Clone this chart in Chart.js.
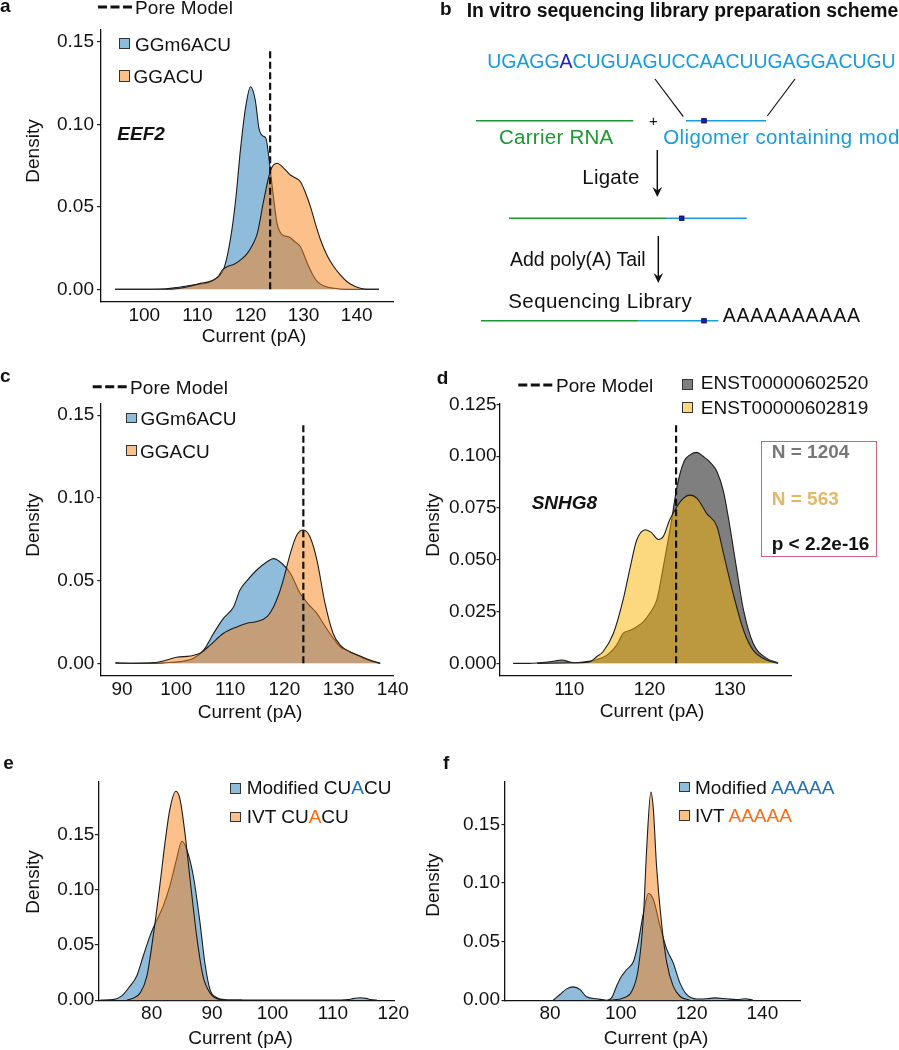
<!DOCTYPE html>
<html><head><meta charset="utf-8">
<script src="https://cdn.jsdelivr.net/npm/chart.js@4.4.1/dist/chart.umd.min.js"></script>
<style>
html,body{margin:0;padding:0;background:#fff;}
#page{position:relative;width:899px;height:1050px;overflow:hidden;background:#fff;font-family:'Liberation Sans',Arial,Helvetica,sans-serif;}
canvas{position:absolute;left:0;top:0;}
svg{position:absolute;left:0;top:0;}
.t{position:absolute;white-space:nowrap;}
.box{position:absolute;box-sizing:border-box;border:1px solid #333;}
</style></head><body><div id="page">
<canvas id="cA" width="899" height="1050"></canvas>
<canvas id="cC" width="899" height="1050"></canvas>
<canvas id="cD" width="899" height="1050"></canvas>
<canvas id="cE" width="899" height="1050"></canvas>
<canvas id="cF" width="899" height="1050"></canvas>
<svg width="899" height="1050">
 <line x1="98" y1="7" x2="132" y2="7" stroke="#111" stroke-width="3" stroke-dasharray="9 3.5"/>
 <line x1="92.7" y1="386.7" x2="126.7" y2="386.7" stroke="#111" stroke-width="3" stroke-dasharray="9 3.5"/>
 <line x1="518.3" y1="385" x2="552.7" y2="385" stroke="#111" stroke-width="3" stroke-dasharray="9 3.5"/>
 <line x1="655" y1="79" x2="683.3" y2="116.7" stroke="#111" stroke-width="1.2"/>
 <line x1="795" y1="79" x2="767.3" y2="116" stroke="#111" stroke-width="1.2"/>
 <line x1="476" y1="120.7" x2="633.3" y2="120.7" stroke="#1e9632" stroke-width="1.5"/>
 <line x1="686" y1="120.7" x2="766" y2="120.7" stroke="#1a9bdc" stroke-width="1.5"/>
 <rect x="701.7" y="118.4" width="4.6" height="4.6" fill="#1a1ad0" stroke="#111" stroke-width="0.8"/>
 <line x1="657.3" y1="150" x2="657.3" y2="192" stroke="#111" stroke-width="1.5"/>
 <polygon points="652.5,187 657.3,197 662.1,187 657.3,190.5" fill="#111"/>
 <line x1="509" y1="218.3" x2="666" y2="218.3" stroke="#1e9632" stroke-width="1.5"/>
 <line x1="666" y1="218.3" x2="746.7" y2="218.3" stroke="#1a9bdc" stroke-width="1.5"/>
 <rect x="679.4" y="216" width="4.6" height="4.6" fill="#1a1ad0" stroke="#111" stroke-width="0.8"/>
 <line x1="658.3" y1="236" x2="658.3" y2="278" stroke="#111" stroke-width="1.5"/>
 <polygon points="653.5,273 658.3,283 663.1,273 658.3,276.5" fill="#111"/>
 <line x1="481" y1="320.7" x2="638.3" y2="320.7" stroke="#1e9632" stroke-width="1.5"/>
 <line x1="638.3" y1="320.7" x2="718.3" y2="320.7" stroke="#1a9bdc" stroke-width="1.5"/>
 <rect x="701.7" y="318.4" width="4.6" height="4.6" fill="#1a1ad0" stroke="#111" stroke-width="0.8"/>
</svg>
</div>
<script>
// ---------------- DATA ----------------
// Panel a (EEF2)
const aX_m6A = [94.5,100,104,106,108,110,112,113.5,115,116.2,117.2,118.1,119.1,120.0,120.9,121.6,122.3,122.9,123.8,124.4,125.0,126.0,127.2,128.3,129.4,130.7,131.7,132.6,134,135.7,138,144.2];
const aY_m6A = [0,0,0.0003,0.001,0.002,0.003,0.004,0.0065,0.0127,0.030,0.054,0.0844,0.1107,0.1228,0.1147,0.0975,0.093,0.0915,0.0703,0.054,0.040,0.033,0.0318,0.029,0.0258,0.0158,0.009,0.0046,0.0018,0.0006,0,0];
const aX_A = [94.5,104,106,107,108.8,110.6,112,113.1,114,114.7,115.8,116.9,118.2,119.4,120.4,121.3,122.5,123.8,125.0,126.3,127.5,128.5,129.4,130.3,131.3,132.2,133.2,134.5,135.7,137,138.2,139.5,140.7,142,144.2];
const aY_A = [0,0,0.0003,0.0008,0.002,0.0036,0.0045,0.0058,0.008,0.0117,0.014,0.0152,0.018,0.0218,0.027,0.034,0.054,0.0723,0.0764,0.0733,0.0693,0.0675,0.0652,0.059,0.050,0.040,0.0299,0.020,0.0137,0.0085,0.0046,0.002,0.0006,0,0];
const aPore = 123.7, aPoreTop = 0.146;
const aXTicks = [100,110,120,130,140];
const aYTicks = [0,0.05,0.10,0.15];

// Panel c
const cX_m6A = [88.8,90,92,94,96,98,100.8,103.2,105.1,106.9,108.7,110.6,111.8,113.1,114.9,116.8,118.0,119.5,121.1,122.9,124.5,126.0,127.2,128.4,129.4,130.3,131.5,132.7,134.6,136,137.7];
const cY_m6A = [0.0004,0.0002,0,0,0,0.0003,0.001,0.003,0.008,0.018,0.027,0.034,0.0443,0.050,0.0564,0.0614,0.0633,0.0605,0.0544,0.0423,0.0355,0.0302,0.024,0.018,0.0135,0.010,0.0078,0.006,0.003,0.0013,0];
const cX_A = [88.8,92,96,98.3,100.1,102.6,104.4,106.3,108.7,111.2,113.1,114.9,116.8,118.0,119.0,119.8,121.1,122.3,123.5,124.7,126.0,127.5,129.0,130.3,132.1,134.0,135.8,137.7];
const cY_A = [0,0,0.0004,0.002,0.0036,0.0044,0.006,0.011,0.018,0.022,0.0242,0.0252,0.0282,0.0342,0.042,0.0504,0.0665,0.0776,0.0806,0.0766,0.0625,0.0363,0.018,0.011,0.007,0.0044,0.002,0];
const cPore = 123.5, cPoreTop = 0.146;
const cXTicks = [90,100,110,120,130,140];
const cYTicks = [0,0.05,0.10,0.15];

// Panel d (SNHG8)
const dX_520 = [103,105,107.6,109.05,110.5,111.7,113.4,114.7,115.9,116.7,117.6,118.4,119.2,120.0,120.9,121.8,122.7,123.4,124.3,125.0,125.8,126.8,127.6,128.4,129.2,130.0,130.8,131.7,132.9,134.6,136.0];
const dY_520 = [0,0,0.0008,0.0016,0.0003,0.0006,0.0019,0.004,0.0088,0.0145,0.016,0.0177,0.020,0.0241,0.0306,0.0485,0.068,0.085,0.0975,0.1005,0.1018,0.0995,0.0968,0.0925,0.083,0.066,0.0466,0.0257,0.0097,0.0024,0.0003];
const dX_819 = [106,110.9,112.6,113.4,114.2,115.5,116.7,117.6,118.4,119.5,120.2,121.1,121.7,122.5,123.4,124.2,125.0,125.9,127.1,128.4,129.2,130.4,131.7,132.9,134.6,136.0];
const dY_819 = [0,0.0003,0.0008,0.0032,0.0056,0.0145,0.0306,0.0466,0.0595,0.0645,0.0632,0.0598,0.0612,0.0692,0.0756,0.0796,0.0812,0.0796,0.0724,0.0659,0.0531,0.0338,0.016,0.0064,0.0016,0];
const dPore = 123.3, dPoreTop = 0.1166;
const dXTicks = [110,120,130];
const dYTicks = [0,0.025,0.05,0.075,0.1,0.125];

// Panel e (CUACU)
const eX_mod = [71.5,73.6,75.0,76.4,77.5,78.6,79.7,80.5,81.9,83.0,84.1,85.0,85.8,86.9,88.0,88.8,89.65,90.8,92,93.5,100,110,112.5,113.5,114.5,115.5,116.3,117.3];
const eY_mod = [0,0.0005,0.0036,0.0127,0.0217,0.040,0.058,0.0686,0.0852,0.1033,0.1274,0.144,0.1365,0.1123,0.0701,0.0339,0.0097,0.0022,0.0005,0,0,0,0.0005,0.0016,0.0022,0.0016,0.0005,0];
const eX_ivt = [75.9,77.0,78.1,79.2,80.3,81.4,82.2,83.0,84.0,84.7,85.5,86.3,87.45,88.5,89.65,91.3,93,95];
const eY_ivt = [0,0.002,0.0066,0.0217,0.060,0.1063,0.1425,0.1727,0.1893,0.1818,0.1516,0.1123,0.058,0.0217,0.0066,0.0006,0,0];
const eXTicks = [80,90,100,110,120];
const eYTicks = [0,0.05,0.10,0.15];

// Panel f (AAAAA)
const fX_mod = [80.9,82.8,84.7,86.6,88.5,90.3,93.2,96.0,97.4,98.8,100.2,101.7,103.6,104.9,106.4,107.8,109.2,111.1,113.0,114.8,116.7,118.6,121.4,124.3,126.6,129.9,132.7,135.1,137.4];
const fY_mod = [0,0.0049,0.0097,0.0114,0.0091,0.0029,0.0012,0,0.002,0.012,0.0205,0.0262,0.0333,0.049,0.0746,0.091,0.0859,0.0631,0.0433,0.0319,0.0148,0.0049,0.001,0.0012,0.002,0.0012,0.0005,0.0012,0];
const fX_ivt = [96.9,100.7,103.1,104.9,106.4,107.3,108.5,109.2,110.1,111.5,113.0,114.8,116.7,119.5];
const fY_ivt = [0,0.002,0.0077,0.0262,0.0717,0.1286,0.1775,0.1627,0.1143,0.066,0.0319,0.012,0.0034,0];
const fXTicks = [80,100,120,140];
const fYTicks = [0,0.05,0.10,0.15];

// ---------------- STYLE / LAYOUT ----------------
const FONT = "'Liberation Sans', Arial, Helvetica, sans-serif";
const BLUE_FILL = 'rgba(33,121,185,0.5)', ORANGE_FILL = 'rgba(249,129,21,0.5)';
const GREY_FILL = 'rgba(0,0,0,0.5)', YELLOW_FILL = 'rgba(250,180,0,0.5)';
const pts = (xs, ys) => xs.map((x, i) => ({x: x, y: ys[i]}));
const YW = 60, XH = 40;

function area(xs, ys, fill, order) {
  return {data: pts(xs, ys), backgroundColor: fill, borderColor: '#1c1c1c', borderWidth: 1.1,
          fill: 'origin', cubicInterpolationMode: 'monotone', pointRadius: 0, order: order};
}
function poreLine(x, top) {
  return {data: [{x: x, y: 0}, {x: x, y: top}], borderColor: '#111', borderWidth: 2.2,
          borderDash: [7, 3.5], fill: false, pointRadius: 0, order: -1};
}
function densityChart(id, g, datasets, xTicks, yTicks, yDec) {
  return new Chart(document.getElementById(id), {
    type: 'line',
    data: {datasets: datasets},
    options: {
      responsive: false, animation: false, events: [], devicePixelRatio: 1,
      layout: {padding: {left: g.axisX - YW, right: 899 - g.right, top: g.top, bottom: 1050 - g.axisY - XH}},
      plugins: {legend: {display: false}, tooltip: {enabled: false}},
      scales: {
        x: {type: 'linear', min: g.xmin, max: g.xmax, bounds: 'data',
            afterFit: s => { s.height = XH; },
            afterBuildTicks: s => { s.ticks = xTicks.map(v => ({value: v})); },
            grid: {display: true, drawOnChartArea: false, drawTicks: false, color: '#222'},
            border: {display: true, color: '#111', width: 1.3},
            ticks: {color: '#111', font: {family: FONT, size: 19, lineHeight: 1.2}, padding: 2,
                    maxRotation: 0, autoSkip: false, callback: v => String(v)}},
        y: {type: 'linear', min: g.ymin, max: g.ymax, bounds: 'data',
            afterFit: s => { s.width = YW; },
            afterBuildTicks: s => { s.ticks = yTicks.map(v => ({value: v})); },
            grid: {display: true, drawOnChartArea: false, drawTicks: true, tickLength: 3.5, color: '#222', lineWidth: 1.2},
            border: {display: true, color: '#111', width: 1.3},
            ticks: {color: '#111', font: {family: FONT, size: 19, lineHeight: 1.2}, padding: g.yPad,
                    autoSkip: false, callback: v => Number(v).toFixed(yDec)}}
      }
    }
  });
}

densityChart('cA', {axisX:100.5, axisY:302, top:30, right:393, xmin:91.75, xmax:146.84, ymin:-0.0077, ymax:0.1572, yPad:3},
  [area(aX_A, aY_A, ORANGE_FILL, 0), area(aX_m6A, aY_m6A, BLUE_FILL, 1), poreLine(aPore, aPoreTop)], aXTicks, aYTicks, 2);
densityChart('cC', {axisX:100.8, axisY:676, top:403.3, right:393, xmin:86.09, xmax:140.06, ymin:-0.0077, ymax:0.1572, yPad:3},
  [area(cX_A, cY_A, ORANGE_FILL, 0), area(cX_m6A, cY_m6A, BLUE_FILL, 1), poreLine(cPore, cPoreTop)], cXTicks, cYTicks, 2);
densityChart('cD', {axisX:500, axisY:676, top:403.3, right:791.7, xmin:101.37, xmax:137.70, ymin:-0.0061, ymax:0.1255, yPad:0},
  [area(dX_819, dY_819, YELLOW_FILL, 0), area(dX_520, dY_520, GREY_FILL, 1), poreLine(dPore, dPoreTop)], dXTicks, dYTicks, 3);
densityChart('cE', {axisX:98.3, axisY:1000.7, top:781.7, right:394, xmin:71.16, xmax:120.12, ymin:-0.0005, ymax:0.198, yPad:0.5},
  [area(eX_ivt, eY_ivt, ORANGE_FILL, 0), area(eX_mod, eY_mod, BLUE_FILL, 1)], eXTicks, eYTicks, 2);
densityChart('cF', {axisX:505, axisY:1000.7, top:781.7, right:800.7, xmin:67.29, xmax:150.82, ymin:-0.0004, ymax:0.1864, yPad:1.5},
  [area(fX_ivt, fY_ivt, ORANGE_FILL, 0), area(fX_mod, fY_mod, BLUE_FILL, 1)], fXTicks, fYTicks, 2);

// ---------------- TEXT ----------------
const page = document.getElementById('page');
function T(x, cy, html, o) {
  o = o || {};
  const s = o.size || 19;
  const d = document.createElement('div');
  d.className = 't';
  d.innerHTML = html;
  d.style.left = x + 'px';
  d.style.top = (cy - (o.lc ? 0.5865 : 0.4885) * s) + 'px';
  d.style.fontSize = s + 'px';
  d.style.lineHeight = s + 'px';
  if (o.bold) d.style.fontWeight = 'bold';
  if (o.italic) d.style.fontStyle = 'italic';
  d.style.color = o.color || '#111';
  page.appendChild(d);
  if (o.center) d.style.transform = 'translateX(-50%)';
  if (o.w) {
    const n = d.textContent.length;
    const cur = d.getBoundingClientRect().width;
    d.style.letterSpacing = ((o.w - cur) / (n - 1)) + 'px';
  }
  return d;
}
function R(cx, cy, str) {
  const d = document.createElement('div');
  d.className = 't'; d.textContent = str;
  d.style.fontSize = '19px'; d.style.lineHeight = '19px'; d.style.color = '#111';
  d.style.left = cx + 'px'; d.style.top = cy + 'px';
  d.style.transform = 'translate(-50%,-50%) rotate(-90deg)';
  page.appendChild(d);
}
function B(x, y, w, h, fill) {
  const d = document.createElement('div');
  d.className = 'box';
  d.style.left = x + 'px'; d.style.top = y + 'px'; d.style.width = w + 'px'; d.style.height = h + 'px';
  d.style.background = fill;
  page.appendChild(d);
}
const LB = '#8fbcdc', LO = '#fcc08a';

// a
T(0, 6.7, 'a', {bold: true, lc: true});
T(135, 7, 'Pore Model', {w: 98});
B(119, 38, 11.3, 11.3, LB); T(135, 44, 'GGm6ACU');
B(119, 70.3, 11.3, 11.3, LO); T(133.5, 76, 'GGACU');
T(117.3, 133, 'EEF2', {bold: true, italic: true});
R(31.6, 151.3, 'Density');
T(254, 335, 'Current (pA)', {center: true});

// b
T(440, 8.5, 'b', {bold: true});
T(466.7, 10.5, 'In vitro sequencing library preparation scheme', {bold: true, size: 19.4, w: 431.7});
T(487.3, 61.7, 'UGAGG<span style="color:#2020c8">A</span>CUGUAGUCCAACUUGAGGACUGU', {size: 19.5, color: '#1a9bdc', w: 408.4});
T(653.3, 120.7, '+', {size: 15, center: true});
T(499, 136.7, 'Carrier RNA', {size: 20.5, color: '#1e9632', w: 114.3});
T(663.3, 136.7, 'Oligomer containing mod', {size: 20.5, color: '#1a9bdc', w: 236});
T(582.3, 177.3, 'Ligate', {size: 20.5, w: 57});
T(510, 259.3, 'Add poly(A) Tail', {size: 19.5, w: 135.7});
T(508.3, 301.2, 'Sequencing Library', {size: 20.5, w: 183.4});
T(722.7, 316, 'AAAAAAAAAA', {size: 19.5, w: 137.3});

// c
T(0, 377.5, 'c', {bold: true, lc: true});
T(130, 387.3, 'Pore Model', {w: 98});
B(126, 412.7, 10.7, 10.7, LB); T(140.5, 418.3, 'GGm6ACU');
B(126, 445, 10.7, 11, LO); T(140, 450.8, 'GGACU');
R(31.6, 525, 'Density');
T(250, 711.6, 'Current (pA)', {center: true});

// d
T(436.7, 377, 'd', {bold: true});
T(556, 385, 'Pore Model', {w: 97.3});
B(682, 379.3, 11, 11, '#808080'); T(700.7, 382.5, 'ENST00000602520', {w: 167.6});
B(682, 402, 11, 11, '#fcd97f'); T(700.7, 407, 'ENST00000602819', {w: 167.6});
T(531.7, 502.7, 'SNHG8', {bold: true, italic: true});
(function(){ const d = document.createElement('div'); d.style.cssText = 'position:absolute;left:761px;top:440.7px;width:116.3px;height:116px;box-sizing:border-box;border:1.8px solid #cd6478;'; page.appendChild(d); })();
T(771.7, 451.7, 'N = 1204', {bold: true, color: '#777777'});
T(771.7, 498, 'N = 563', {bold: true, color: '#e2b866'});
T(771.7, 543, 'p &lt; 2.2e-16', {bold: true});
R(431.6, 525, 'Density');
T(652, 710, 'Current (pA)', {center: true});

// e
T(3.3, 764, 'e', {bold: true, lc: true});
B(230, 783, 10.7, 10.7, LB); T(246.7, 787.5, 'Modified CU<span style="color:#1f6fb4">A</span>CU');
B(230, 811.5, 10.7, 10.7, LO); T(246.7, 816.5, 'IVT CU<span style="color:#ff6a10">A</span>CU');
R(31.6, 881.7, 'Density');
T(240.5, 1037.3, 'Current (pA)', {center: true});

// f
T(443, 762, 'f', {bold: true});
B(679.3, 781.7, 10.7, 10.7, LB); T(695, 787, 'Modified <span style="color:#1f6fb4">AAAAA</span>');
B(679.3, 810.3, 10.7, 10.7, LO); T(695, 815.5, 'IVT <span style="color:#ff6a10">AAAAA</span>');
R(431.6, 885, 'Density');
T(656, 1037, 'Current (pA)', {center: true});
</script>
</body></html>
